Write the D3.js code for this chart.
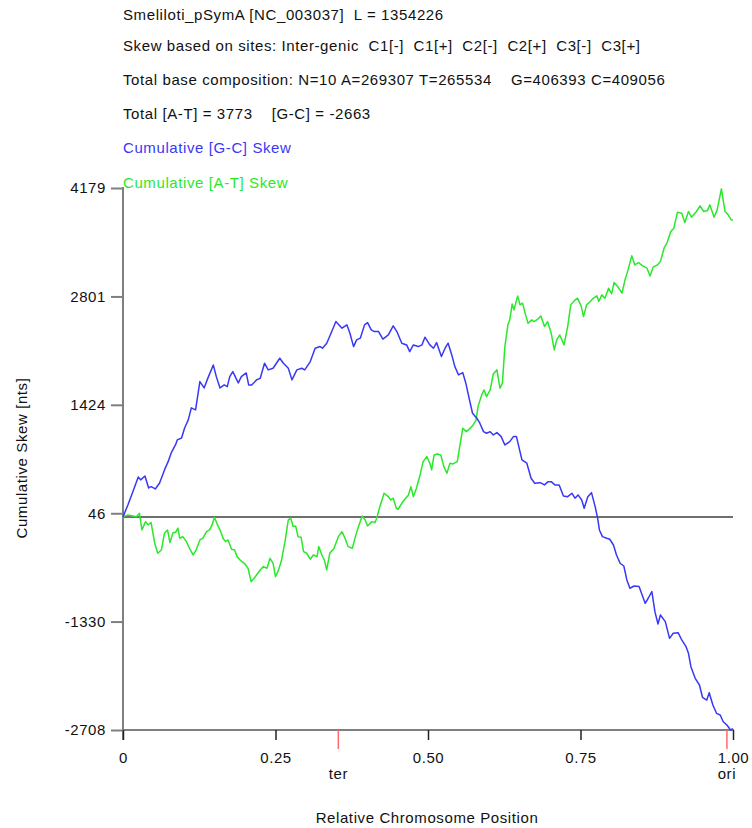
<!DOCTYPE html>
<html>
<head>
<meta charset="utf-8">
<script src="https://cdn.jsdelivr.net/npm/d3@7"></script>
<style>
  html, body { margin: 0; padding: 0; background: #fff; }
  svg { display: block; font-family: "Liberation Sans", Arial, Helvetica, sans-serif; }
  svg text { letter-spacing: 0.6px; }
</style>
</head>
<body>
<svg id="chart" width="752" height="828"></svg>
<script>
// ---------- data ----------
const headerLines = [
  "Smeliloti_pSymA [NC_003037]  L = 1354226",
  "Skew based on sites: Inter-genic  C1[-]  C1[+]  C2[-]  C2[+]  C3[-]  C3[+]",
  "Total base composition: N=10 A=269307 T=265534    G=406393 C=409056",
  "Total [A-T] = 3773    [G-C] = -2663"
];
const legendLabels = ["Cumulative [G-C] Skew", "Cumulative [A-T] Skew"];

const yTickValues = [4179, 2801, 1424, 46, -1330, -2708];
const xTickValues = [0, 0.25, 0.5, 0.75, 1.0];
const xTickLabels = ["0", "0.25", "0.50", "0.75", "1.00"];
const markerNames = ["ter", "ori"];
const markerPos = [0.353, 0.99];

// Cumulative [G-C] skew (relative position, nts)
const gcPos = [0,0.008,0.016,0.025,0.029,0.036,0.042,0.046,0.053,0.060,0.068,0.074,0.079,0.086,0.089,0.096,0.101,0.107,0.112,0.119,
0.126,0.133,0.138,0.148,0.153,0.159,0.166,0.171,0.175,0.180,0.189,0.194,0.202,0.206,0.211,0.219,0.225,0.232,0.238,0.246,
0.257,0.263,0.271,0.277,0.285,0.293,0.298,0.307,0.315,0.323,0.327,0.334,0.341,0.349,0.359,0.367,0.372,0.378,0.383,0.389,
0.396,0.401,0.407,0.412,0.419,0.426,0.435,0.443,0.449,0.457,0.465,0.470,0.476,0.484,0.490,0.495,0.503,0.509,0.514,0.522,
0.528,0.533,0.539,0.544,0.550,0.557,0.562,0.568,0.573,0.580,0.585,0.591,0.596,0.602,0.607,0.613,0.620,0.626,0.634,0.640,
0.645,0.654,0.662,0.669,0.675,0.684,0.691,0.697,0.702,0.708,0.715,0.722,0.729,0.736,0.741,0.746,0.752,0.756,0.762,0.768,
0.774,0.778,0.781,0.786,0.793,0.798,0.804,0.809,0.815,0.821,0.826,0.831,0.838,0.846,0.856,0.861,0.867,0.872,0.877,0.881,
0.889,0.896,0.902,0.910,0.916,0.923,0.927,0.931,0.938,0.945,0.950,0.957,0.961,0.967,0.973,0.979,0.984,0.990,0.996,1.0];
const gcSkew = [0,152,317,508,470,520,368,384,355,431,597,702,813,914,978,1003,1130,1232,1385,1359,
1719,1639,1741,1931,1782,1639,1677,1655,1782,1846,1702,1782,1829,1677,1677,1741,1762,1953,1868,1889,
2016,1953,1889,1741,1868,1889,1868,1973,2143,2164,2143,2207,2334,2482,2398,2440,2334,2164,2249,2271,
2440,2469,2376,2355,2355,2258,2312,2427,2355,2207,2185,2100,2185,2164,2185,2283,2185,2143,2215,2037,
2143,2207,2058,1910,1804,1833,1699,1486,1317,1254,1190,1083,1063,1083,1041,1071,1020,914,956,1020,
1020,724,682,491,428,435,406,448,448,406,406,266,257,300,237,279,215,110,257,308,
130,-13,-166,-251,-271,-284,-357,-484,-589,-624,-801,-907,-878,-886,-1098,-1034,-950,-1204,-1361,-1246,
-1331,-1543,-1479,-1471,-1564,-1649,-1733,-1903,-2051,-2136,-2292,-2327,-2234,-2390,-2496,-2517,-2603,-2644,-2708,-2690];

// Cumulative [A-T] skew (relative position, nts)
const atPos = [0,0.008,0.016,0.022,0.027,0.031,0.037,0.041,0.046,0.052,0.057,0.063,0.068,0.073,0.077,0.082,0.086,0.090,0.093,0.098,
0.104,0.109,0.115,0.120,0.126,0.131,0.137,0.142,0.146,0.150,0.155,0.159,0.164,0.168,0.172,0.178,0.183,0.187,0.193,0.200,
0.205,0.210,0.215,0.221,0.226,0.230,0.236,0.241,0.246,0.250,0.255,0.260,0.266,0.271,0.275,0.279,0.283,0.287,0.292,0.296,
0.301,0.307,0.312,0.318,0.321,0.326,0.330,0.334,0.339,0.346,0.353,0.359,0.364,0.369,0.376,0.381,0.386,0.392,0.397,0.401,
0.408,0.413,0.416,0.421,0.428,0.435,0.439,0.443,0.448,0.451,0.457,0.462,0.468,0.472,0.476,0.481,0.487,0.492,0.498,0.503,
0.506,0.510,0.515,0.521,0.526,0.531,0.536,0.541,0.548,0.552,0.557,0.563,0.569,0.574,0.579,0.582,0.588,0.592,0.596,0.602,
0.607,0.613,0.618,0.622,0.626,0.631,0.634,0.638,0.641,0.647,0.651,0.655,0.660,0.664,0.670,0.674,0.680,0.685,0.691,0.696,
0.702,0.707,0.711,0.716,0.723,0.729,0.734,0.740,0.745,0.751,0.755,0.760,0.766,0.771,0.777,0.780,0.785,0.790,0.796,0.801,
0.805,0.811,0.818,0.823,0.828,0.834,0.839,0.845,0.852,0.859,0.864,0.869,0.876,0.881,0.887,0.892,0.898,0.903,0.909,0.916,
0.921,0.927,0.932,0.940,0.946,0.952,0.958,0.962,0.969,0.974,0.981,0.987,0.992,0.997,1.0];
const atSkew = [0,25,12,3,46,-166,-60,-102,-73,-335,-462,-420,-208,-166,-327,-200,-200,-144,-271,-251,
-315,-399,-484,-420,-293,-271,-188,-166,-102,-5,-102,-166,-271,-315,-293,-411,-420,-505,-556,-598,
-653,-823,-780,-716,-665,-632,-653,-526,-589,-760,-674,-547,-293,-39,-17,-124,-116,-251,-259,-442,
-462,-538,-484,-505,-378,-484,-547,-674,-462,-399,-251,-188,-271,-378,-399,-251,-124,12,-39,-116,
-60,-73,-17,130,300,257,215,237,110,97,173,224,279,384,257,364,533,702,766,682,
597,787,800,787,639,555,682,673,702,893,1127,1083,1127,1169,1232,1401,1550,1613,1528,1613,
1817,1868,1635,1699,2164,2440,2503,2706,2630,2808,2694,2715,2567,2461,2503,2482,2512,2554,2418,2482,
2334,2122,2249,2312,2185,2418,2694,2748,2779,2681,2545,2694,2736,2779,2808,2736,2821,2779,2906,2834,
2977,2926,2843,3012,3139,3317,3202,3232,3189,3160,3062,3173,3202,3244,3414,3486,3625,3669,3872,3859,
3740,3880,3808,3880,3952,3880,3892,3965,3808,3901,4168,3880,3838,3774,3773];

// ---------- layout ----------
const svg = d3.select("#chart");
const x = d3.scaleLinear().domain([0, 1]).range([123, 733]);
const y = d3.scaleLinear().domain([-2708, 4179]).range([730, 188]);

const fs = 15;
const axisGray = "#7f7f7f";
const blue = "#3838f6";
const green = "#2ae82a";

// header text
const headerBaselines = [20, 51, 85, 119];
svg.selectAll("text.header").data(headerLines).enter().append("text")
  .attr("class", "header")
  .attr("x", 123).attr("y", (d, i) => headerBaselines[i])
  .attr("font-size", fs).attr("fill", "#111")
  .style("white-space", "pre").attr("xml:space", "preserve")
  .text(d => d);

svg.selectAll("text.legend").data(legendLabels).enter().append("text")
  .attr("class", "legend")
  .attr("x", 123).attr("y", (d, i) => [153, 188][i])
  .attr("font-size", fs).attr("fill", (d, i) => i === 0 ? blue : green)
  .text(d => d);

// zero line
svg.append("line")
  .attr("x1", x(0)).attr("x2", x(1))
  .attr("y1", y(0)).attr("y2", y(0))
  .attr("stroke", "#6f6f6f").attr("stroke-width", 2);

// y axis
const yAxis = d3.axisLeft(y).tickValues(yTickValues).tickSize(12).tickSizeOuter(0).tickPadding(5)
  .tickFormat(d => String(d));
const gy = svg.append("g").attr("transform", `translate(${x(0)},0)`).call(yAxis);
gy.select(".domain").remove();
gy.selectAll(".tick line").attr("stroke", axisGray).attr("stroke-width", 2);
gy.selectAll(".tick text").attr("font-size", fs).attr("fill", "#111")
  .attr("font-family", "Liberation Sans, Arial, sans-serif");

svg.append("line")
  .attr("x1", x(0)).attr("x2", x(0))
  .attr("y1", y(4179) - 1).attr("y2", 740)
  .attr("stroke", axisGray).attr("stroke-width", 2);

// x axis
svg.append("line")
  .attr("x1", x(0)).attr("x2", x(1) + 1)
  .attr("y1", y(-2708)).attr("y2", y(-2708))
  .attr("stroke", axisGray).attr("stroke-width", 2);

const xAxis = d3.axisBottom(x).tickValues(xTickValues).tickSize(10).tickSizeOuter(0).tickPadding(12)
  .tickFormat((d, i) => xTickLabels[i]);
const gx = svg.append("g").attr("transform", `translate(0,${y(-2708)})`).call(xAxis);
gx.select(".domain").remove();
gx.selectAll(".tick line").attr("stroke", "#222").attr("stroke-width", 1.5);
gx.selectAll(".tick text").attr("font-size", fs).attr("fill", "#111")
  .attr("font-family", "Liberation Sans, Arial, sans-serif");

// ter / ori markers
markerPos.forEach((p, i) => {
  svg.append("line")
    .attr("x1", x(p)).attr("x2", x(p))
    .attr("y1", y(-2708)).attr("y2", y(-2708) + 19)
    .attr("stroke", "#ff6a6a").attr("stroke-width", 1.5);
  svg.append("text")
    .attr("x", x(p)).attr("y", 779)
    .attr("text-anchor", "middle").attr("font-size", fs).attr("fill", "#111")
    .text(markerNames[i]);
});

// lines
const gcData = gcPos.map((p, i) => [p, gcSkew[i]]);
const atData = atPos.map((p, i) => [p, atSkew[i]]);
const line = d3.line().x(d => x(d[0])).y(d => y(d[1]));

svg.append("path").datum(atData).attr("d", line)
  .attr("fill", "none").attr("stroke", green).attr("stroke-width", 1.5).attr("stroke-linejoin", "round");
svg.append("path").datum(gcData).attr("d", line)
  .attr("fill", "none").attr("stroke", blue).attr("stroke-width", 1.5).attr("stroke-linejoin", "round");

// axis titles
svg.append("text")
  .attr("x", 427).attr("y", 823)
  .attr("text-anchor", "middle").attr("font-size", fs).attr("fill", "#111")
  .text("Relative Chromosome Position");

svg.append("text")
  .attr("transform", "translate(27,458) rotate(-90)")
  .attr("text-anchor", "middle").attr("font-size", fs).attr("fill", "#111")
  .text("Cumulative Skew [nts]");
</script>
</body>
</html>
